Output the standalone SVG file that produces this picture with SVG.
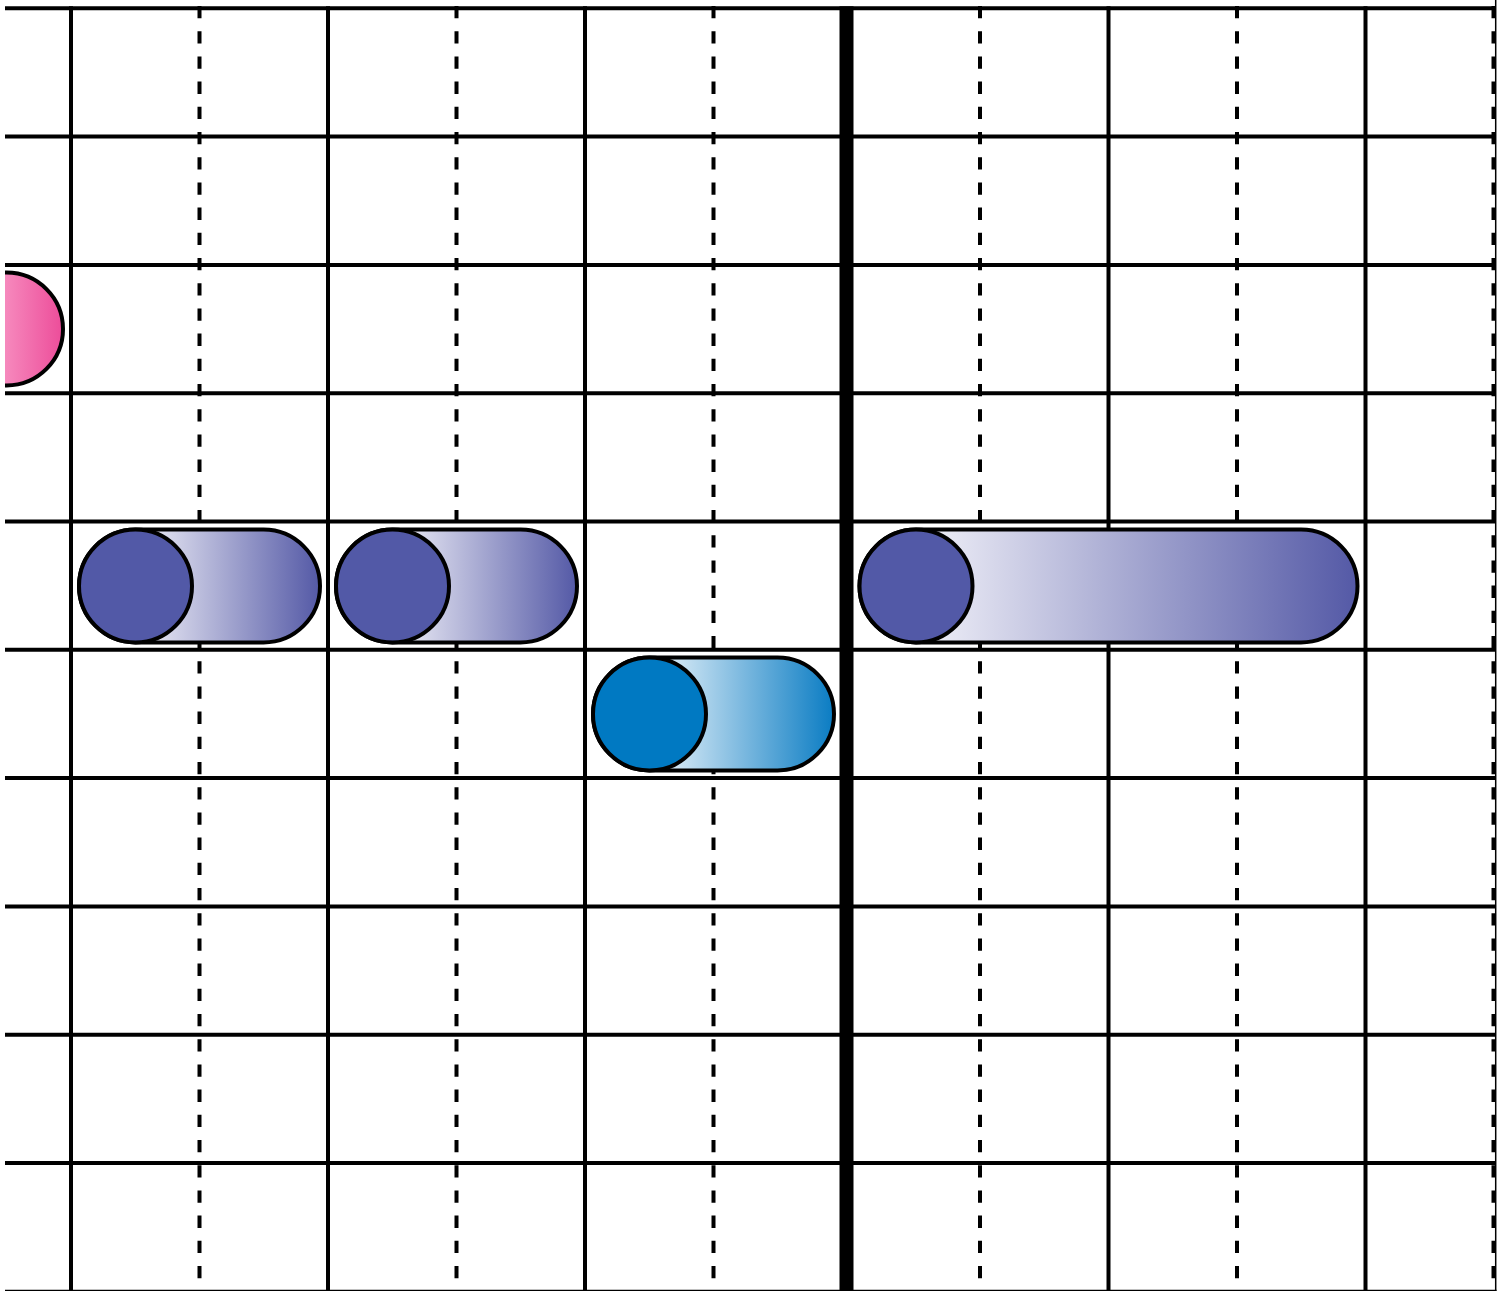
<svg xmlns="http://www.w3.org/2000/svg" width="1506" height="1291" viewBox="0 0 1506 1291">
  <style>
    .h { stroke: #000; stroke-width: 4; }
    .v { stroke: #000; stroke-width: 4; }
    .d { stroke: #000; stroke-width: 4; stroke-dasharray: 12.3 12.9; }
    .pill { stroke: #000; stroke-width: 4; }
    .head { stroke: #000; stroke-width: 4; }
  </style>
  <defs>
    <clipPath id="clip">
      <rect x="5" y="0" width="1490.5" height="1291"/>
    </clipPath>
    <linearGradient id="gP1" gradientUnits="userSpaceOnUse" x1="135.5" y1="0" x2="320" y2="0">
      <stop offset="0" stop-color="#f2f2f9"/>
      <stop offset="1" stop-color="#5459a6"/>
    </linearGradient>
    <linearGradient id="gP2" gradientUnits="userSpaceOnUse" x1="392.5" y1="0" x2="577" y2="0">
      <stop offset="0" stop-color="#f2f2f9"/>
      <stop offset="1" stop-color="#5459a6"/>
    </linearGradient>
    <linearGradient id="gP4" gradientUnits="userSpaceOnUse" x1="916" y1="0" x2="1357.5" y2="0">
      <stop offset="0" stop-color="#f2f2f9"/>
      <stop offset="1" stop-color="#5459a6"/>
    </linearGradient>
    <linearGradient id="gC3" gradientUnits="userSpaceOnUse" x1="649.5" y1="0" x2="834" y2="0">
      <stop offset="0" stop-color="#f0f7fc"/>
      <stop offset="1" stop-color="#0a7cc3"/>
    </linearGradient>
    <linearGradient id="gPink" gradientUnits="userSpaceOnUse" x1="5" y1="0" x2="65" y2="0">
      <stop offset="0" stop-color="#f689bd"/>
      <stop offset="1" stop-color="#ec4a98"/>
    </linearGradient>
  </defs>

  <g id="grid" clip-path="url(#clip)">
    <g id="rows">
      <line class="h" x1="5" y1="8.3" x2="1495.5" y2="8.3"/>
      <line class="h" x1="5" y1="136.6" x2="1495.5" y2="136.6"/>
      <line class="h" x1="5" y1="264.9" x2="1495.5" y2="264.9"/>
      <line class="h" x1="5" y1="393.2" x2="1495.5" y2="393.2"/>
      <line class="h" x1="5" y1="521.5" x2="1495.5" y2="521.5"/>
      <line class="h" x1="5" y1="649.8" x2="1495.5" y2="649.8"/>
      <line class="h" x1="5" y1="778.1" x2="1495.5" y2="778.1"/>
      <line class="h" x1="5" y1="906.4" x2="1495.5" y2="906.4"/>
      <line class="h" x1="5" y1="1034.7" x2="1495.5" y2="1034.7"/>
      <line class="h" x1="5" y1="1163" x2="1495.5" y2="1163"/>
    </g>
    <g id="beats">
      <line class="v" x1="71" y1="6.3" x2="71" y2="1291"/>
      <line class="d" x1="199.5" y1="6" x2="199.5" y2="1291"/>
      <line class="v" x1="328" y1="6.3" x2="328" y2="1291"/>
      <line class="d" x1="456.5" y1="6" x2="456.5" y2="1291"/>
      <line class="v" x1="585" y1="6.3" x2="585" y2="1291"/>
      <line class="d" x1="713.5" y1="6" x2="713.5" y2="1291"/>
      <rect x="839.5" y="6.3" width="14" height="1285" fill="#000"/>
      <line class="d" x1="980" y1="6" x2="980" y2="1291"/>
      <line class="v" x1="1108.5" y1="6.3" x2="1108.5" y2="1291"/>
      <line class="d" x1="1237" y1="6" x2="1237" y2="1291"/>
      <line class="v" x1="1365.5" y1="6.3" x2="1365.5" y2="1291"/>
      <line class="d" x1="1493.5" y1="6" x2="1493.5" y2="1291"/>
    </g>
  </g>
  <g id="frame">
    <line x1="1495.7" y1="0" x2="1495.7" y2="1291" stroke="#000" stroke-width="1.5"/>
    <line x1="5" y1="1290.4" x2="1496.5" y2="1290.4" stroke="#000" stroke-width="1.2"/>
  </g>

  <g id="note-pink" clip-path="url(#clip)">
    <rect class="pill" x="-180" y="272.5" width="243" height="113" rx="56.5" fill="url(#gPink)"/>
  </g>

  <g id="note-1">
    <rect class="pill" x="79" y="529.5" width="241" height="113" rx="56.5" fill="url(#gP1)"/>
    <circle class="head" cx="135.5" cy="586" r="56.5" fill="#5259a7"/>
  </g>

  <g id="note-2">
    <rect class="pill" x="336" y="529.5" width="241" height="113" rx="56.5" fill="url(#gP2)"/>
    <circle class="head" cx="392.5" cy="586" r="56.5" fill="#5259a7"/>
  </g>

  <g id="note-3">
    <rect class="pill" x="593" y="657.5" width="241" height="113" rx="56.5" fill="url(#gC3)"/>
    <circle class="head" cx="649.5" cy="714" r="56.5" fill="#0079c2"/>
  </g>

  <g id="note-4">
    <rect class="pill" x="859.5" y="529.5" width="498" height="113" rx="56.5" fill="url(#gP4)"/>
    <circle class="head" cx="916" cy="586" r="56.5" fill="#5259a7"/>
  </g>

  <g id="connectors"/>
</svg>
